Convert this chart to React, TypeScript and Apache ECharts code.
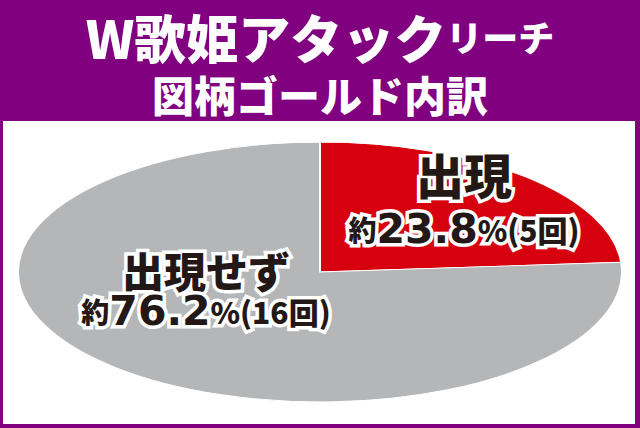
import React, { useEffect, useRef } from "react";
import * as echarts from "echarts";

// ---- data ----
const categories = ["出現", "出現せず"];
const percents = [23.8, 76.2];
const counts = [5, 16];
const titleMain = "W歌姫アタック";
const titleSub = "リーチ";
const titleLine2 = "図柄ゴールド内訳";

// ---- layout / style ----
const COLORS = ["#D7000F", "#B5B6B8"];
const PURPLE = "#800080";
const INK = "#231815";
const CX = 320;
const CY = 272;
const RX = 302;
const RY = 130;
const LABEL_POS = [
  { x: 464, nameY: 173, pctY: 229 },
  { x: 206, nameY: 269, pctY: 311 },
];
const NAME_SIZE = [48, 42];
const JP = "'Noto Sans CJK JP', sans-serif";
const NUM = "'DejaVu Sans', sans-serif";

export default function App() {
  const ref = useRef<HTMLDivElement>(null);

  useEffect(() => {
    const chart = echarts.init(ref.current!, null, {
      renderer: "svg",
      width: 640,
      height: 428,
    });
    const total = percents.reduce((a, b) => a + b, 0);

    const outline = { fill: INK, stroke: "#fff", lineWidth: 7 };

    const option: any = {
      animation: false,
      backgroundColor: PURPLE,
      title: [
        {
          text: `{a|${titleMain}}{b|${titleSub}}`,
          left: "center",
          top: 9,
          padding: 0,
          textStyle: {
            rich: {
              a: { fontSize: 52, fontWeight: 900, fontFamily: JP, color: "#fff", lineHeight: 54 },
              b: { fontSize: 36, fontWeight: 900, fontFamily: JP, color: "#fff", lineHeight: 54 },
            },
          },
        },
        {
          text: titleLine2,
          left: "center",
          top: 71,
          padding: 0,
          textStyle: {
            fontSize: 42,
            fontWeight: 900,
            fontFamily: JP,
            color: "#fff",
            lineHeight: 44,
          },
        },
      ],
      graphic: [
        {
          type: "rect",
          z: 0,
          shape: { x: 3, y: 121, width: 632, height: 303 },
          style: { fill: "#fff" },
        },
      ],
      series: [
        {
          type: "custom",
          coordinateSystem: "none",
          z: 5,
          data: percents.map((p, i) => ({ name: categories[i], value: [p, counts[i]] })),
          renderItem: (params: any, api: any) => {
            const i = params.dataIndex;
            const p = api.value(0) as number;
            const c = api.value(1) as number;
            let before = 0;
            for (let k = 0; k < i; k++) before += percents[k];
            const start = -Math.PI / 2 + (before / total) * Math.PI * 2;
            const end = start + (p / total) * Math.PI * 2;
            const pos = LABEL_POS[i];
            return {
              type: "group",
              children: [
                {
                  type: "sector",
                  x: CX,
                  y: CY,
                  scaleY: RY / RX,
                  shape: { cx: 0, cy: 0, r: RX, r0: 0, startAngle: start, endAngle: end, clockwise: true },
                  style: { fill: COLORS[i], stroke: "#fff", lineWidth: 2 },
                },
                {
                  type: "text",
                  x: pos.x,
                  y: pos.nameY,
                  z2: 10,
                  style: {
                    text: categories[i],
                    align: "center",
                    verticalAlign: "middle",
                    textAlign: "center",
                    textVerticalAlign: "middle",
                    fontSize: NAME_SIZE[i],
                    fontWeight: 900,
                    fontFamily: JP,
                    ...outline,
                  },
                },
                {
                  type: "text",
                  x: pos.x,
                  y: pos.pctY,
                  z2: 10,
                  style: {
                    text: `{y|約}{d|${p.toFixed(1)}}{s|%(${c}回)}`,
                    align: "center",
                    verticalAlign: "middle",
                    textAlign: "center",
                    textVerticalAlign: "middle",
                    fontSize: 28,
                    fontWeight: 900,
                    fontFamily: JP,
                    ...outline,
                    rich: {
                      y: { fontSize: 28, fontWeight: 900, fontFamily: JP, lineHeight: 40, ...outline },
                      d: { fontSize: 41, fontWeight: "bold", fontFamily: NUM, lineHeight: 40, ...outline },
                      s: { fontSize: 30, fontWeight: 900, fontFamily: JP, lineHeight: 40, ...outline },
                    },
                  },
                },
              ],
            };
          },
        },
      ],
    };

    chart.setOption(option);
    return () => chart.dispose();
  }, []);

  return (
    <div
      ref={ref}
      style={{ position: "fixed", left: 0, top: 0, width: 640, height: 428 }}
    />
  );
}
